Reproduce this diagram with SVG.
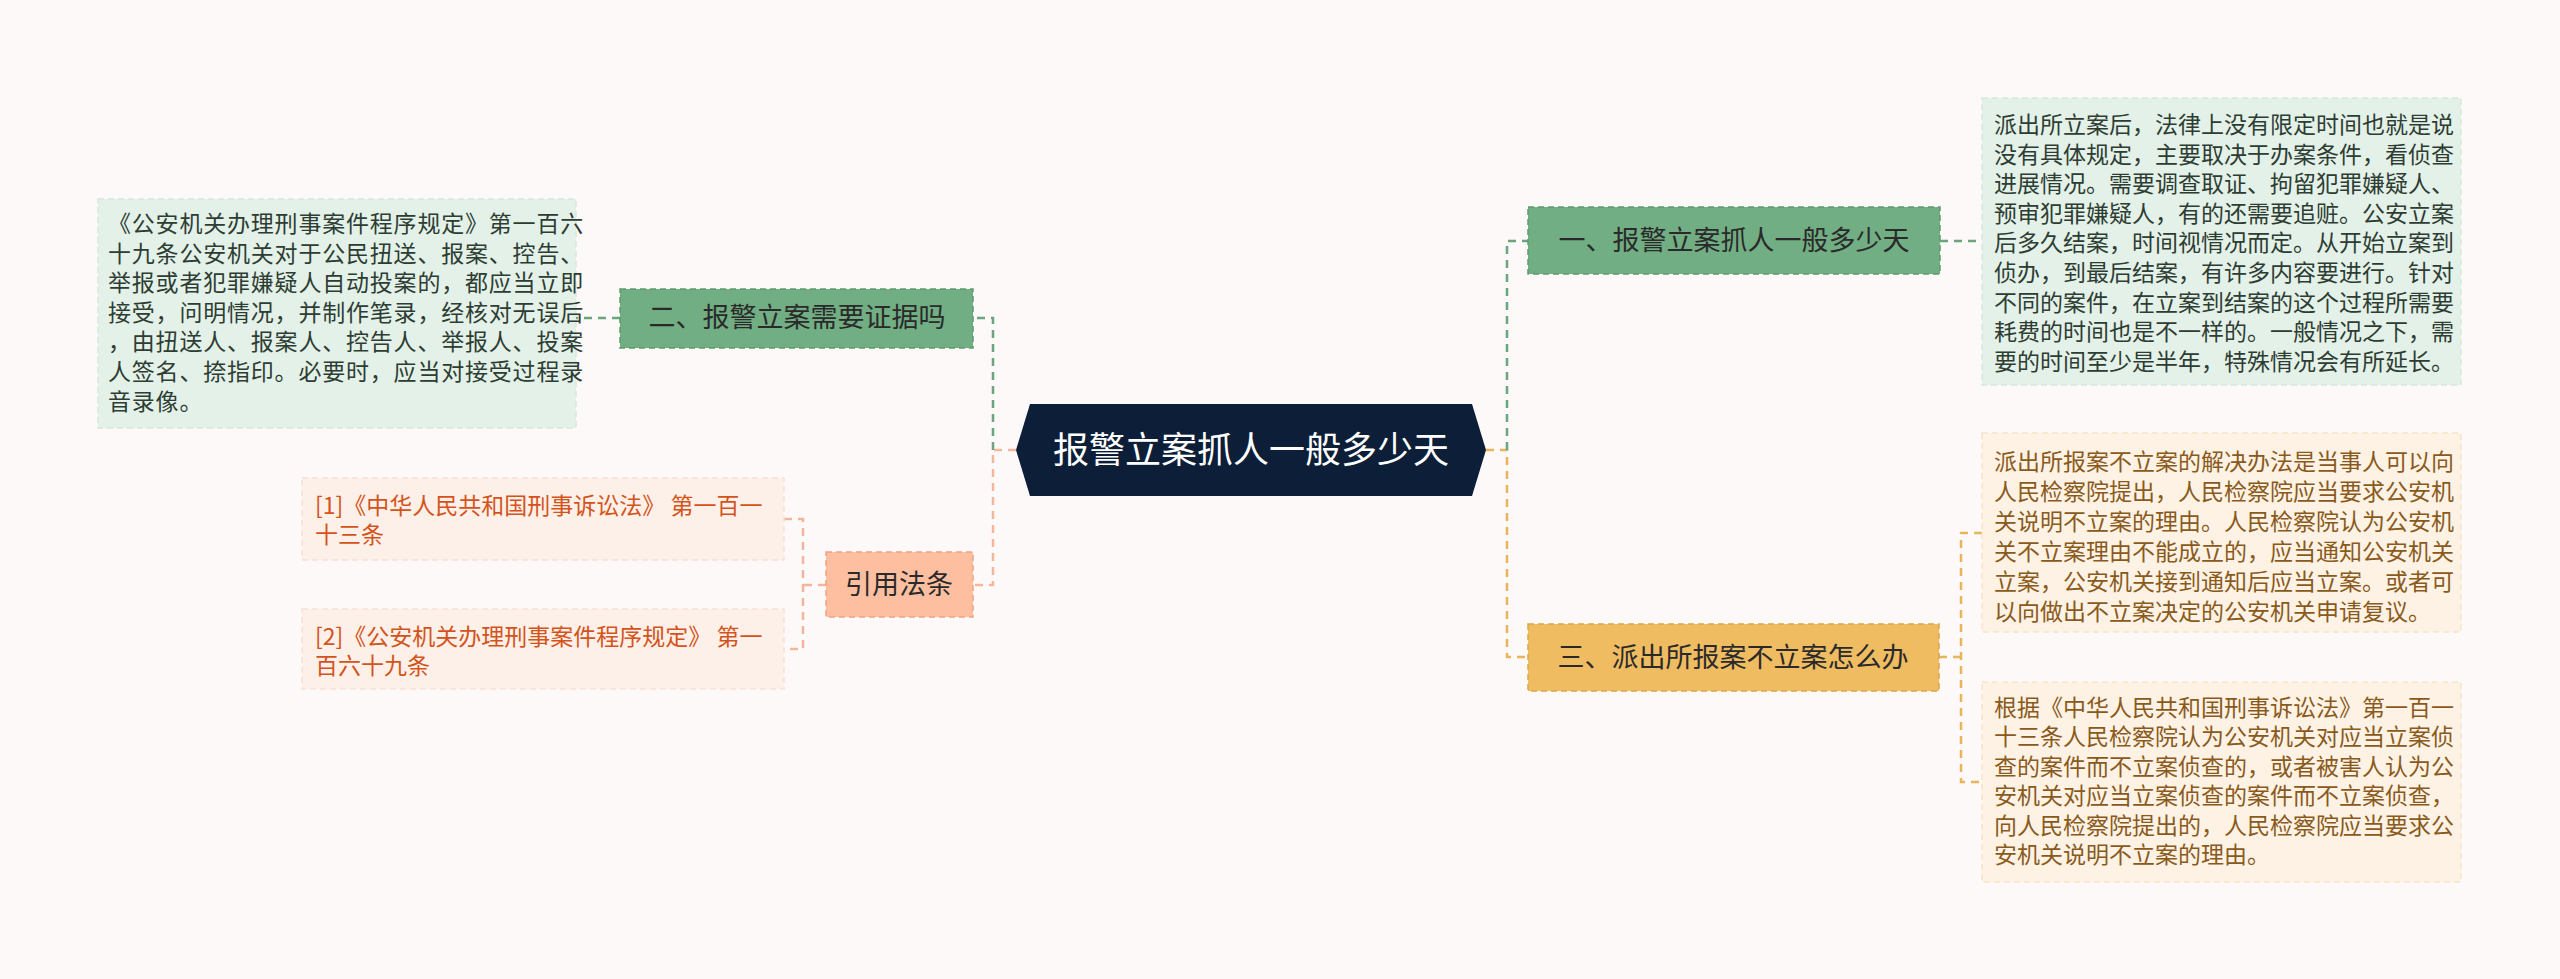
<svg xmlns="http://www.w3.org/2000/svg" width="2560" height="979" viewBox="0 0 2560 979">
<style>
text{font-family:"Noto Sans CJK SC","Liberation Sans",sans-serif}
.c{fill:none;stroke-width:2.5;stroke-dasharray:8,6}
.g{stroke:#6aa57d}.o{stroke:#e8b55a}.p{stroke:#f4b69a}
.lg{fill:#e4f1e8;stroke:#d5e8db;stroke-dasharray:6,4;stroke-width:1.5}
.lo{fill:#fdf2e3;stroke:#f5e5cc;stroke-dasharray:6,4;stroke-width:1.5}
.lp{fill:#fdf0e8;stroke:#f8e0d4;stroke-dasharray:6,4;stroke-width:1.5}
.tg{font-size:23px;fill:#2d3d33}
.to{font-size:23px;fill:#8a5a1d}
.tp{font-size:23px;fill:#d4531b}
.n{font-size:27px;fill:#2a2a2a;text-anchor:middle}
</style>
<rect width="2560" height="979" fill="#fdf9f8"/>
<g id="connectors">
<path class="c o" d="M1486 450H1507V657H1528"/>
<path class="c g" d="M1507 450V241H1528"/>
<path class="c g" d="M1940 241H1982"/>
<path class="c o" d="M1939 657H1961M1982 533H1961V782H1982"/>
<path class="c p" d="M1016 450H993V585H973"/>
<path class="c g" d="M993 450V318H973"/>
<path class="c g" d="M620 318H576"/>
<path class="c p" d="M826 585H803M784 519H803V649H784"/>
</g>
<g id="root">
<polygon points="1016,450 1030,404 1472,404 1486,450 1472,496 1030,496" fill="#0d1f38"/>
<text x="1251" y="463" font-size="36" fill="#fff" text-anchor="middle">报警立案抓人一般多少天</text>
</g>
<g id="n1">
<rect x="1528" y="207" width="412" height="67" fill="#72ae83" stroke="#5d9a6e" stroke-width="1.5" stroke-dasharray="6,4"/>
<text class="n" x="1734" y="250">一、报警立案抓人一般多少天</text>
</g>
<g id="n1leaf">
<rect class="lg" x="1982" y="98" width="479" height="287"/>
<text class="tg"><tspan x="1994" y="133">派出所立案后，法律上没有限定时间也就是说</tspan><tspan x="1994" y="162.6">没有具体规定，主要取决于办案条件，看侦查</tspan><tspan x="1994" y="192.2">进展情况。需要调查取证、拘留犯罪嫌疑人、</tspan><tspan x="1994" y="221.8">预审犯罪嫌疑人，有的还需要追赃。公安立案</tspan><tspan x="1994" y="251.4">后多久结案，时间视情况而定。从开始立案到</tspan><tspan x="1994" y="281">侦办，到最后结案，有许多内容要进行。针对</tspan><tspan x="1994" y="310.6">不同的案件，在立案到结案的这个过程所需要</tspan><tspan x="1994" y="340.2">耗费的时间也是不一样的。一般情况之下，需</tspan><tspan x="1994" y="369.8">要的时间至少是半年，特殊情况会有所延长。</tspan></text>
</g>
<g id="n3">
<rect x="1528" y="624" width="411" height="67" fill="#f0bc62" stroke="#dba54a" stroke-width="1.5" stroke-dasharray="6,4"/>
<text class="n" x="1733" y="667">三、派出所报案不立案怎么办</text>
</g>
<g id="n3leaf1">
<rect class="lo" x="1982" y="433" width="479" height="199"/>
<text class="to"><tspan x="1994" y="470">派出所报案不立案的解决办法是当事人可以向</tspan><tspan x="1994" y="500">人民检察院提出，人民检察院应当要求公安机</tspan><tspan x="1994" y="530">关说明不立案的理由。人民检察院认为公安机</tspan><tspan x="1994" y="560">关不立案理由不能成立的，应当通知公安机关</tspan><tspan x="1994" y="590">立案，公安机关接到通知后应当立案。或者可</tspan><tspan x="1994" y="620">以向做出不立案决定的公安机关申请复议。</tspan></text>
</g>
<g id="n3leaf2">
<rect class="lo" x="1982" y="682" width="479" height="200"/>
<text class="to"><tspan x="1994" y="716">根据《中华人民共和国刑事诉讼法》第一百一</tspan><tspan x="1994" y="745.4">十三条人民检察院认为公安机关对应当立案侦</tspan><tspan x="1994" y="774.8">查的案件而不立案侦查的，或者被害人认为公</tspan><tspan x="1994" y="804.2">安机关对应当立案侦查的案件而不立案侦查，</tspan><tspan x="1994" y="833.6">向人民检察院提出的，人民检察院应当要求公</tspan><tspan x="1994" y="863">安机关说明不立案的理由。</tspan></text>
</g>
<g id="n2">
<rect x="620" y="289" width="353" height="59" fill="#72ae83" stroke="#5d9a6e" stroke-width="1.5" stroke-dasharray="6,4"/>
<text class="n" x="797" y="327">二、报警立案需要证据吗</text>
</g>
<g id="n2leaf">
<rect class="lg" x="98" y="199" width="478" height="229"/>
<text class="tg" letter-spacing="0.8"><tspan x="108" y="232">《公安机关办理刑事案件程序规定》第一百六</tspan><tspan x="108" y="261.6">十九条公安机关对于公民扭送、报案、控告、</tspan><tspan x="108" y="291.2">举报或者犯罪嫌疑人自动投案的，都应当立即</tspan><tspan x="108" y="320.8">接受，问明情况，并制作笔录，经核对无误后</tspan><tspan x="108" y="350.4">，由扭送人、报案人、控告人、举报人、投案</tspan><tspan x="108" y="380">人签名、捺指印。必要时，应当对接受过程录</tspan><tspan x="108" y="409.6">音录像。</tspan></text>
</g>
<g id="ref">
<rect x="826" y="552" width="147" height="65" fill="#fdbf9f" stroke="#eea483" stroke-width="1.5" stroke-dasharray="6,4"/>
<text class="n" x="899" y="594">引用法条</text>
</g>
<g id="ref1">
<rect class="lp" x="302" y="478" width="482" height="82"/>
<text class="tp"><tspan x="315" y="514">[1]《中华人民共和国刑事诉讼法》 第一百一</tspan><tspan x="315" y="543">十三条</tspan></text>
</g>
<g id="ref2">
<rect class="lp" x="302" y="609" width="482" height="80"/>
<text class="tp"><tspan x="315" y="645">[2]《公安机关办理刑事案件程序规定》 第一</tspan><tspan x="315" y="674">百六十九条</tspan></text>
</g>
</svg>
